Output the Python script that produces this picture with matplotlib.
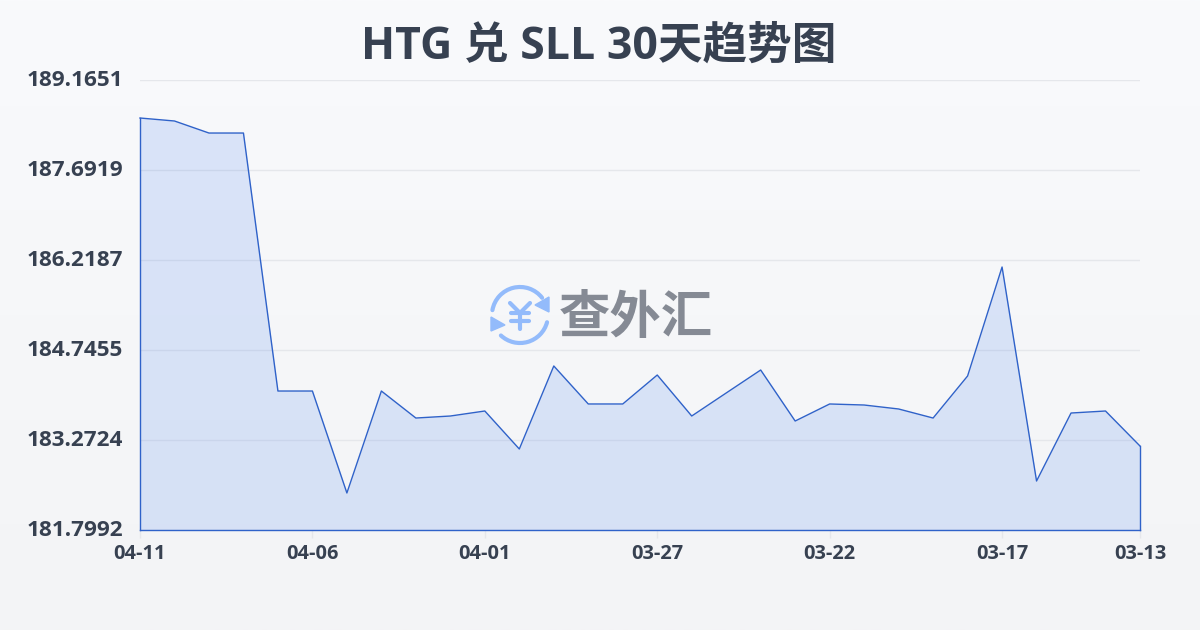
import numpy as np
import matplotlib
matplotlib.use('Agg')
import matplotlib.pyplot as plt
from matplotlib.patches import Arc, Polygon
from matplotlib.transforms import ScaledTranslation

plt.rcParams['font.family'] = ['Open Sans', 'Noto Sans CJK SC', 'DejaVu Sans']

# rates, newest first, same order as the x axis
rates = [188.543, 188.494, 188.297, 188.297, 184.074, 184.074, 182.405, 184.074,
         183.632, 183.665, 183.747, 183.125, 184.484, 183.862, 183.862, 184.336,
         183.665, 184.042, 184.418, 183.583, 183.862, 183.845, 183.780, 183.632,
         184.320, 186.104, 182.601, 183.714, 183.747, 183.174]
x_pos = list(range(30))
x_ticks = [0, 5, 10, 15, 20, 25, 29]
x_labels = ['04-11', '04-06', '04-01', '03-27', '03-22', '03-17', '03-13']
y_ticks = [181.7992, 183.2724, 184.7455, 186.2187, 187.6919, 189.1651]
y_labels = ['181.7992', '183.2724', '184.7455', '186.2187', '187.6919', '189.1651']

W, H = 1200, 630
fig = plt.figure(figsize=(W / 100, H / 100), dpi=100)

# page background, pixel coords from here on for the decorations
bg = fig.add_axes([0, 0, 1, 1], zorder=0)
bg.set_xlim(0, W)
bg.set_ylim(H, 0)
bg.axis('off')
top = np.array([249, 250, 252]) / 255
bottom = np.array([243, 244, 246]) / 255
grad = np.linspace(0, 1, 256)[:, None, None] * (bottom - top) + top
bg.imshow(grad, extent=[0, W, H, 0], aspect='auto', zorder=0)

ax = fig.add_axes([140 / W, 1 - 530 / H, 1000 / W, 450 / H], zorder=1)
ax.patch.set_alpha(0)
ax.set_xlim(0, 29)
ax.set_ylim(181.7992, 189.1651)
for s in ax.spines.values():
    s.set_visible(False)
ax.yaxis.grid(True, color='#e5e7eb', lw=1)
ax.set_axisbelow(True)

line_c = '#2f62c9'
ax.fill_between(x_pos, rates, 181.7992, color='#3f7af0', alpha=0.16, lw=0)
ax.plot(x_pos, rates, color=line_c, lw=1, clip_on=False)
ax.plot([0, 0], [rates[0], 181.7992], color=line_c, lw=1, clip_on=False)
ax.plot([29, 29], [rates[-1], 181.7992], color=line_c, lw=1, clip_on=False)
ax.plot([0, 29], [181.7992, 181.7992], color=line_c, lw=1, clip_on=False)

ax.set_xticks(x_ticks)
ax.set_xticklabels(x_labels, fontsize=14.4, fontweight='bold', color='#374151')
ax.set_yticks(y_ticks)
ax.set_yticklabels(y_labels, fontsize=16.2, fontweight='bold', color='#374151')
ax.tick_params(axis='x', length=6, width=1, color='#e5e7eb', pad=4)
ax.tick_params(axis='y', length=0, pad=12)
# y labels sit a little above their grid lines
up = ScaledTranslation(0, 2 / 100, fig.dpi_scale_trans)
for t in ax.get_yticklabels():
    t.set_transform(t.get_transform() + up)

fig.text(0.499, 1 - 47.5 / H, 'HTG 兑 SLL 30天趋势图', fontsize=32.1, fontweight='bold',
         color='#374151', ha='center', va='center')

# watermark logo
over = fig.add_axes([0, 0, 1, 1], zorder=2)
over.axis('off')
blue = '#93bbfb'
cx, cy = 520, 315
over.add_patch(Arc((cx, cy), 56, 56, theta1=190, theta2=322, color=blue, lw=3, capstyle='round'))
over.add_patch(Arc((cx, cy), 56, 56, theta1=15, theta2=133, color=blue, lw=3, capstyle='round'))
over.add_patch(Polygon([[549, 297], [549, 312], [535, 305]], color=blue))
over.add_patch(Polygon([[491, 317], [491, 331], [505, 325]], color=blue))
yen_kw = dict(color=blue, lw=3, solid_capstyle='round')
over.plot([510, 520, 530], [303, 313, 303], **yen_kw)
over.plot([520, 520], [313, 329], **yen_kw)
over.plot([511, 529], [313, 313], **yen_kw)
over.plot([511, 529], [321, 321], **yen_kw)
over.set_xlim(0, W)
over.set_ylim(H, 0)
over.text(636, 320, '查外汇', fontsize=37, fontweight='bold', color='#858a94', ha='center', va='center')

fig.savefig('out.png', dpi=100)
